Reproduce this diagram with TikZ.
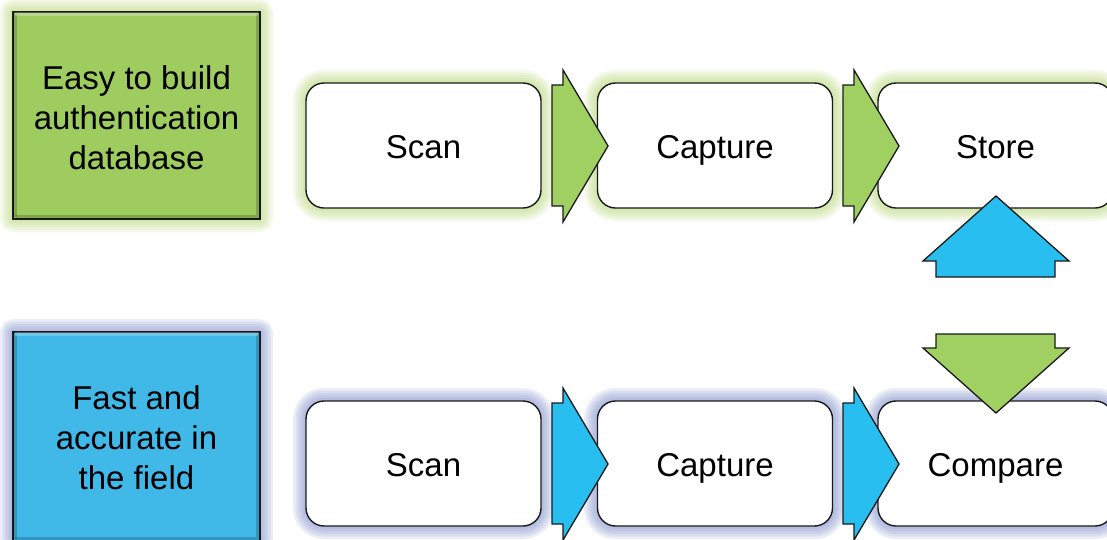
\documentclass[tikz,border=0pt]{standalone}
\usepackage{fontspec}
\setmainfont{Liberation Sans}
\definecolor{boxgreen}{RGB}{158,204,94}
\definecolor{arrgreen}{RGB}{160,207,98}
\definecolor{boxblue}{RGB}{64,184,232}
\definecolor{arrblue}{RGB}{41,190,240}
\definecolor{glowgreen}{RGB}{185,216,120}
\definecolor{glowblue}{RGB}{125,142,206}
\definecolor{edge}{RGB}{25,25,25}
\begin{document}
\begin{tikzpicture}[x=1pt,y=-1pt,
  stepbox/.style={draw=edge, line width=1.4pt, fill=white, rounded corners=18pt,
    minimum width=235pt, minimum height=125pt, inner sep=0pt,
    text height=31pt, text depth=5pt,
    font=\fontsize{33}{40}\selectfont},
  goalbox/.style={draw=edge, line width=2pt, minimum width=247pt, inner sep=0pt},
  goaltext/.style={font=\fontsize{33}{40}\selectfont, align=center, anchor=base},
  blockarrow/.style={draw=edge, line width=1.3pt, line join=miter}
]
\useasboundingbox (0,0) rectangle (1107,539);
\fill[white] (0,0) rectangle (1107,539);

% glows
\newcommand{\glowrect}[4]{%
  \foreach \w in {26,21,16,11,6}{%
    \draw[#3, line width=\w pt, opacity=0.15, rounded corners=#4] (#1) rectangle (#2);}}
\glowrect{13,12}{260,219}{glowgreen}{2pt}
\glowrect{13,332}{260,541}{glowblue}{2pt}
\glowrect{306,83}{541,208}{glowgreen}{18pt}
\glowrect{597,83}{833,208}{glowgreen}{18pt}
\glowrect{878,83}{1113,208}{glowgreen}{18pt}
\glowrect{306,401}{541,526}{glowblue}{18pt}
\glowrect{597,401}{833,526}{glowblue}{18pt}
\glowrect{878,401}{1113,526}{glowblue}{18pt}

% goal boxes
\node[goalbox, fill=boxgreen, minimum height=207pt] (g1) at (136.5,115.5) {};
\node[goaltext] (t1) at (136.5,169) {Easy to build\\authentication\\database};
\node[goalbox, fill=boxblue, minimum height=209pt] (g2) at (136.5,436.5) {};
\node[goaltext] (t2) at (136.5,489) {Fast and\\accurate in\\the field};
% bevel shading
\draw[black, opacity=0.18, line width=4pt] ([shift={(3,-3)}]g1.south west) -- ([shift={(3,3)}]g1.north west) ;
\draw[black, opacity=0.18, line width=4pt] ([shift={(3,-3)}]g1.south west) -- ([shift={(-3,-3)}]g1.south east) -- ([shift={(-3,3)}]g1.north east);
\draw[white, opacity=0.25, line width=4pt] ([shift={(3,3)}]g1.north west) -- ([shift={(-3,3)}]g1.north east);
\draw[black, opacity=0.18, line width=4pt] ([shift={(3,-3)}]g2.south west) -- ([shift={(3,3)}]g2.north west) ;
\draw[black, opacity=0.18, line width=4pt] ([shift={(3,-3)}]g2.south west) -- ([shift={(-3,-3)}]g2.south east) -- ([shift={(-3,3)}]g2.north east);
\draw[white, opacity=0.25, line width=4pt] ([shift={(3,3)}]g2.north west) -- ([shift={(-3,3)}]g2.north east);

% step boxes
\node[stepbox] (s1) at (423.5,145.5) {Scan};
\node[stepbox] (c1) at (715,145.5) {Capture};
\node[stepbox] (st) at (995.5,145.5) {Store};
\node[stepbox] (s2) at (423.5,463.5) {Scan};
\node[stepbox] (c2) at (715,463.5) {Capture};
\node[stepbox] (cm) at (995.5,463.5) {Compare};

% right block arrows
\newcommand{\rarrow}[3]{%
  \begin{scope}[shift={(#1,#2)}]
  \draw[blockarrow, fill=#3] (0,-61) -- (11,-61) -- (11,-76) -- (56,0) -- (11,76) -- (11,60) -- (0,60) -- cycle;
  \end{scope}}
\rarrow{552}{146}{arrgreen}
\rarrow{843}{146}{arrgreen}
\rarrow{552}{464}{arrblue}
\rarrow{843}{464}{arrblue}

% vertical block arrows
\draw[blockarrow, fill=arrblue] (996,196) -- (1069,261) -- (1055,261) -- (1055,277)
  -- (936,277) -- (936,261) -- (923,261) -- cycle;
\draw[blockarrow, fill=arrgreen] (996,413) -- (1069,348) -- (1055,348) -- (1055,334)
  -- (936,334) -- (936,348) -- (923,348) -- cycle;
\end{tikzpicture}
\end{document}
